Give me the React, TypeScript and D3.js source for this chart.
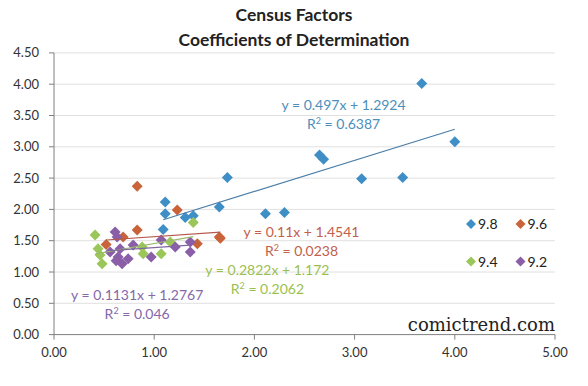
import React from "react";
import * as d3 from "d3";

const seriesNames = ["9.8", "9.6", "9.4", "9.2"];
const seriesColors = ["#3f8fc6", "#c8633a", "#9ac65a", "#8a5fa8"];
const lineColors = ["#4a7ea8", "#b45a4c", "#9bb870", "#8068a0"];
const labelColors = ["#4c8fbc", "#c2604a", "#9bbf4f", "#8468ac"];

const blue: [number, number][] = [
  [1.09, 1.68], [1.11, 1.93], [1.11, 2.12], [1.31, 1.87], [1.39, 1.9],
  [1.65, 2.04], [1.73, 2.51], [2.11, 1.93], [2.3, 1.95], [2.65, 2.87],
  [2.69, 2.8], [3.07, 2.49], [3.48, 2.51], [3.67, 4.01], [4.0, 3.08],
];
const red: [number, number][] = [
  [0.52, 1.44], [0.69, 1.56], [0.83, 1.67], [0.83, 2.37], [1.23, 1.99],
  [1.43, 1.45], [1.65, 1.56], [1.66, 1.54],
];
const green: [number, number][] = [
  [0.41, 1.59], [0.44, 1.37], [0.46, 1.27], [0.48, 1.13], [0.88, 1.4],
  [0.89, 1.29], [1.07, 1.29], [1.16, 1.48], [1.39, 1.79],
];
const purple: [number, number][] = [
  [0.56, 1.32], [0.61, 1.64], [0.63, 1.56], [0.64, 1.24], [0.66, 1.37],
  [0.68, 1.13], [0.62, 1.18], [0.74, 1.21], [0.79, 1.43], [0.97, 1.24],
  [1.07, 1.51], [1.21, 1.4], [1.36, 1.48], [1.36, 1.32],
];
const seriesData = [blue, red, green, purple];

const slopes = [0.497, 0.11, 0.2822, 0.1131];
const intercepts = [1.2924, 1.4541, 1.172, 1.2767];
const eqLabels = [
  "y = 0.497x + 1.2924",
  "y = 0.11x + 1.4541",
  "y = 0.2822x + 1.172",
  "y = 0.1131x + 1.2767",
];
const r2Labels = ["0.6387", "0.0238", "0.2062", "0.046"];
// label anchor positions in data units (x, y of the equation line)
const labelPos: [number, number][] = [
  [2.89, 3.67],
  [2.47, 1.64],
  [2.13, 1.03],
  [0.83, 0.63],
];

const yTicks = d3.range(0, 4.51, 0.5);
const xTicks = d3.range(0, 5.01, 1);

const W = 588;
const H = 386;

export default function App() {
  const x = d3.scaleLinear().domain([0, 5]).range([54, 555]);
  const y = d3.scaleLinear().domain([0, 4.5]).range([334.6, 52.9]);
  const font = "Lato, 'Open Sans', sans-serif";
  const dpath = (cx: number, cy: number, r: number) =>
    `M${cx},${cy - r}L${cx + r},${cy}L${cx},${cy + r}L${cx - r},${cy}Z`;

  return (
    <svg
      width={W}
      height={H}
      style={{ position: "absolute", left: 0, top: 0, background: "#fff" }}
      fontFamily={font}
    >
      <rect width={W} height={H} fill="#fff" />
      <text x={294} y={21} textAnchor="middle" fontWeight="bold" fontSize={17.5} fill="#222">
        Census Factors
      </text>
      <text x={294} y={45.5} textAnchor="middle" fontWeight="bold" fontSize={17.5} fill="#222">
        Coefficients of Determination
      </text>

      {yTicks.slice(1).map((t) => (
        <line key={"g" + t} x1={x(0)} x2={x(5)} y1={y(t)} y2={y(t)} stroke="#e0e0e0" strokeWidth={1} />
      ))}

      <line x1={x(0)} x2={x(0)} y1={y(0)} y2={y(4.5)} stroke="#7f7f7f" />
      <line x1={x(0)} x2={x(5)} y1={y(0)} y2={y(0)} stroke="#7f7f7f" />
      {yTicks.map((t) => (
        <g key={"y" + t}>
          <line x1={x(0) - 5} x2={x(0)} y1={y(t)} y2={y(t)} stroke="#7f7f7f" />
          <text x={x(0) - 15} y={y(t) + 4.5} textAnchor="end" fontSize={13} fill="#333">
            {t.toFixed(2)}
          </text>
        </g>
      ))}
      {xTicks.map((t) => (
        <g key={"x" + t}>
          <line x1={x(t)} x2={x(t)} y1={y(0)} y2={y(0) + 5} stroke="#7f7f7f" />
          <text x={x(t)} y={y(0) + 22} textAnchor="middle" fontSize={13} fill="#333">
            {t.toFixed(2)}
          </text>
        </g>
      ))}

      {seriesData.map((pts, i) =>
        pts.map((p, j) => (
          <path key={`p${i}-${j}`} d={dpath(x(p[0]), y(p[1]), 5.5)} fill={seriesColors[i]} />
        ))
      )}

      {seriesData.map((pts, i) => {
        const [x0, x1] = d3.extent(pts, (p) => p[0]) as [number, number];
        return (
          <line
            key={"t" + i}
            x1={x(x0)}
            x2={x(x1)}
            y1={y(slopes[i] * x0 + intercepts[i])}
            y2={y(slopes[i] * x1 + intercepts[i])}
            stroke={lineColors[i]}
            strokeWidth={1.2}
          />
        );
      })}

      {labelPos.map((lp, i) => (
        <g key={"l" + i} fill={labelColors[i]} fontSize={14}>
          <text x={x(lp[0])} y={y(lp[1]) + 5} textAnchor="middle">
            {eqLabels[i]}
          </text>
          <text x={x(lp[0])} y={y(lp[1]) + 24} textAnchor="middle">
            R<tspan dy={-5} fontSize={9}>2</tspan>
            <tspan dy={5}>{" = " + r2Labels[i]}</tspan>
          </text>
        </g>
      ))}

      {seriesNames.map((n, i) => {
        const lx = 471 + (i % 2) * 49.5;
        const ly = 224 + Math.floor(i / 2) * 37.5;
        return (
          <g key={"lg" + i}>
            <path d={dpath(lx, ly, 5)} fill={seriesColors[i]} />
            <text x={lx + 7} y={ly + 5} fontSize={14} fill="#222">
              {n}
            </text>
          </g>
        );
      })}

      <text x={555} y={331} textAnchor="end" fontFamily="'DejaVu Serif', serif" fontSize={18} fill="#222">
        comictrend.com
      </text>
    </svg>
  );
}
